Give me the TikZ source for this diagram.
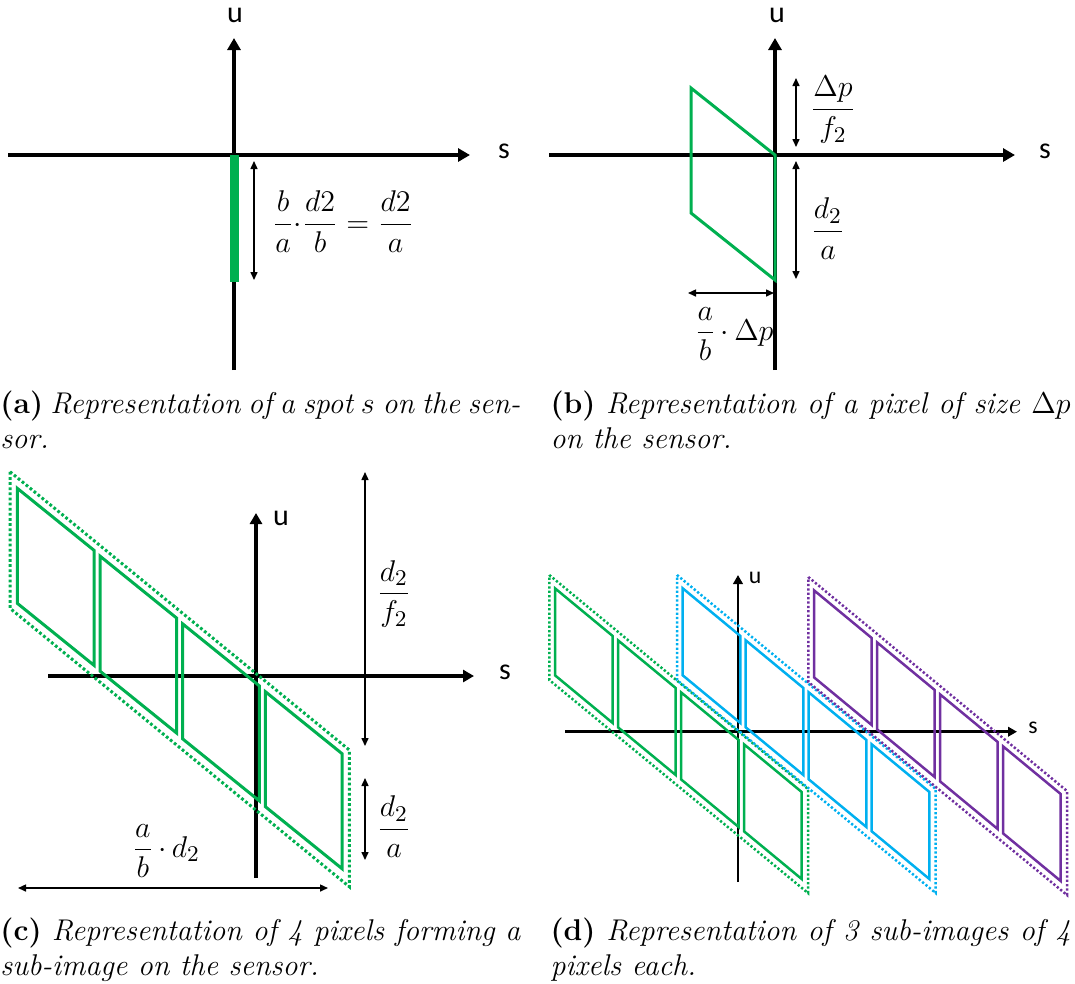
\documentclass[tikz,border=0pt]{standalone}
\usepackage{amsmath}
\usepackage{fontspec}
\newfontfamily\carlito{Carlito}
\usetikzlibrary{arrows.meta}
\definecolor{pgreen}{HTML}{00B050}
\definecolor{pblue}{HTML}{00B0F0}
\definecolor{ppurple}{HTML}{7030A0}
\tikzset{
  axisbig/.style={line width=1.6pt,-{Triangle[length=4.8pt,width=5.2pt]}},
  axismid/.style={line width=1.4pt,-{Triangle[length=4.4pt,width=4.8pt]}},
  axissmall/.style={line width=1.1pt,-{Triangle[length=3.6pt,width=3.8pt]}},
  dimarrow/.style={line width=0.6pt,{Triangle[length=3.2pt,width=2.8pt]}-{Triangle[length=3.2pt,width=2.8pt]}},
  pixc/.style={line width=1.2pt,line join=miter},
  pixd/.style={line width=1pt,line join=miter},
  grpc/.style={line width=1.2pt,dash pattern=on 1.1pt off 0.95pt},
  grpd/.style={line width=1pt,dash pattern=on 0.9pt off 0.85pt},
  axlabel/.style={font=\carlito\fontsize{12}{14}\selectfont,inner sep=0pt},
  axlabelsmall/.style={font=\carlito\fontsize{9.5}{11}\selectfont,inner sep=0pt},
  mlabel/.style={font=\fontsize{12.5}{14}\selectfont,inner sep=0pt},
  capbox/.style={text width=208pt,align=justify,inner sep=0pt,anchor=north west,font=\fontsize{12}{14}\selectfont},
}
\begin{document}
\begin{tikzpicture}[x=0.4pt,y=-0.4pt]
\useasboundingbox (0,0) rectangle (1075,983);

% ---------------- (a) ----------------
\coordinate (aL) at (8,155);
\coordinate (aR) at (470,155);
\coordinate (aB) at (234,370);
\coordinate (aT) at (234,38);
\draw[axisbig] (aL) -- (aR);
\draw[axisbig] (aB) -- (aT);
\node[axlabel] (au) at (235,15) {u};
\node[axlabel] (as) at (504,151) {s};
\coordinate (aG1) at (234,155);
\coordinate (aG2) at (234,282);
\draw[pgreen,line width=3.6pt] (aG1) -- (aG2);
\coordinate (aD1) at (254,161);
\coordinate (aD2) at (254,280);
\draw[dimarrow] (aD1) -- (aD2);
\node[mlabel] (aF) at (343,222) {$\dfrac{b}{a}{\cdot}\dfrac{d2}{b}=\dfrac{d2}{a}$};

% ---------------- (b) ----------------
\coordinate (bL) at (549,155);
\coordinate (bR) at (1015,155);
\coordinate (bB) at (775,370);
\coordinate (bT) at (775,38);
\draw[axisbig] (bL) -- (bR);
\draw[axisbig] (bB) -- (bT);
\node[axlabel] (bu) at (777,15) {u};
\node[axlabel] (bs) at (1045,151) {s};
\draw[pgreen,pixc] (691,88) -- (775,155) -- (775,280) -- (691,213) -- cycle;
\coordinate (bD1) at (796,78);
\coordinate (bD2) at (796,147);
\coordinate (bD3) at (796,161);
\coordinate (bD4) at (796,279);
\coordinate (bD5) at (688,293);
\coordinate (bD6) at (774,293);
\draw[dimarrow] (bD1) -- (bD2);
\draw[dimarrow] (bD3) -- (bD4);
\draw[dimarrow] (bD5) -- (bD6);
\node[mlabel] (bF1) at (833,110) {$\dfrac{\Delta p}{f_2}$};
\node[mlabel] (bF2) at (828,229) {$\dfrac{d_2}{a}$};
\node[mlabel] (bF3) at (734,334) {$\dfrac{a}{b}\,{\cdot}\,\Delta p$};

% ---------------- (c) ----------------
\coordinate (cL) at (48,676);
\coordinate (cR) at (474,676);
\coordinate (cB) at (256,878);
\coordinate (cT) at (256,513);
\draw[axismid] (cL) -- (cR);
\draw[axismid] (cB) -- (cT);
\node[axlabel] (cu) at (281,518) {u};
\node[axlabel] (cs) at (505,672) {s};
\foreach \i in {0,1,2,3}{
  \draw[pgreen,pixc] ({17.3+82.7*\i},{488.3+67.8*\i}) -- ++(76.7,62) -- ++(0,115) -- ++(-76.7,-62) -- cycle;
}
\draw[pgreen,grpc] (10,471.7) -- (349.3,750) -- (349.3,886.7) -- (10,608.3) -- cycle;
\coordinate (cD1) at (365,472);
\coordinate (cD2) at (365,746);
\coordinate (cD3) at (365,778);
\coordinate (cD4) at (365,860);
\coordinate (cD5) at (18,888);
\coordinate (cD6) at (328,888);
\draw[dimarrow] (cD1) -- (cD2);
\draw[dimarrow] (cD3) -- (cD4);
\draw[dimarrow] (cD5) -- (cD6);
\node[mlabel] (cF1) at (394,594) {$\dfrac{d_2}{f_2}$};
\node[mlabel] (cF2) at (394,827) {$\dfrac{d_2}{a}$};
\node[mlabel] (cF3) at (166,851) {$\dfrac{a}{b}\,{\cdot}\,d_2$};

% ---------------- (d) ----------------
\coordinate (dL) at (565,731.7);
\coordinate (dR) at (1017,731.7);
\coordinate (dB) at (738,882);
\coordinate (dT) at (738,575);
\draw[axissmall] (dL) -- (dR);
\draw[axissmall] (dB) -- (dT);
\node[axlabelsmall] (du) at (755,578) {u};
\node[axlabelsmall] (ds) at (1033,728) {s};
\foreach \dx/\dy/\col in {0/0/pgreen,127.7/0/pblue,259/2/ppurple}{
  \foreach \i in {0,1,2,3}{
    \draw[\col,pixd] ({555+\dx+63*\i},{588.3+\dy+52*\i}) -- ++(57.7,47.7) -- ++(0,87) -- ++(-57.7,-47.7) -- cycle;
  }
  \draw[\col,grpd] ({549.3+\dx},{575+\dy}) -- ({808+\dx},{789+\dy}) -- ({808+\dx},{893+\dy}) -- ({549.3+\dx},{680+\dy}) -- cycle;
}

% ---------------- captions ----------------
\node[capbox] (capA) at (0,390) {\textbf{(a)} {\itshape Representation of a spot $s$ on the sen-\linebreak sor.}};
\node[capbox] (capB) at (550,390) {\textbf{(b)} {\itshape Representation of a pixel of size $\Delta p$\linebreak on the sensor.}};
\node[capbox] (capC) at (0,917) {\textbf{(c)} {\itshape Representation of 4 pixels forming a\linebreak sub-image on the sensor.}};
\node[capbox] (capD) at (550,917) {\textbf{(d)} {\itshape Representation of 3 sub-images of 4\linebreak pixels each.}};
\end{tikzpicture}
\end{document}
